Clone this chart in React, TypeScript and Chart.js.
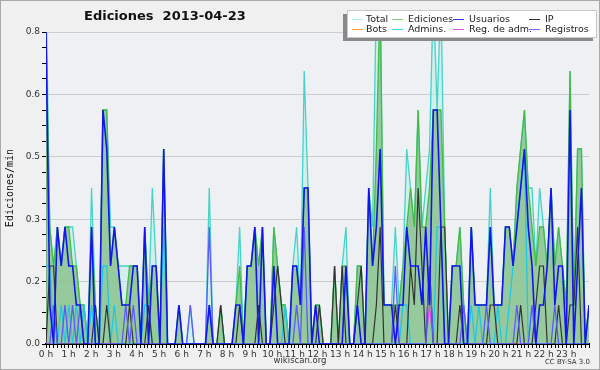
import React, { useEffect, useRef } from 'react';
import { Chart, registerables } from 'chart.js';

Chart.register(...registerables);

const chartTitle = 'Ediciones  2013-04-23';
const yTitle = 'Ediciones/min';
const hourLabels = ['0 h','1 h','2 h','3 h','4 h','5 h','6 h','7 h','8 h','9 h','10 h','11 h','12 h','13 h','14 h','15 h','16 h','17 h','18 h','19 h','20 h','21 h','22 h','23 h'];
const yTickLabels = ['0.0', '0.2', '0.3', '0.5', '0.6', '0.8'];

// 10-minute buckets, edits per minute
const total = [
  0.9,0.3,0.2,0.3,0.2,0.3,0.3,0.3,0.2,0.1,0.1,0,0.4,0.1,0,0.6,0.6,0.3,0.3,0.2,0.2,0.2,0.2,0.2,
  0.2,0,0.3,0.1,0.4,0.2,0,0.5,0,0,0,0.1,0,0,0.1,0,0,0,0,0.4,0,0,0.1,0,
  0,0,0.1,0.3,0,0.2,0.2,0.3,0.2,0.3,0,0,0.3,0.2,0.1,0.1,0,0.2,0.3,0.1,0.7,0.4,0,0.1,
  0.1,0,0,0,0.2,0,0.2,0.3,0,0,0.2,0.2,0,0.4,0.3,0.9,0.9,0.1,0.1,0.1,0.3,0.1,0.2,0.5,
  0.4,0.3,0.6,0.3,0.4,0.5,0.9,0.6,0.9,0.3,0,0.2,0.2,0.3,0.1,0,0.3,0.1,0.1,0.1,0.1,0.4,0.1,0.1,
  0.1,0.3,0.3,0.2,0.4,0.5,0.6,0.4,0.4,0.2,0.4,0.3,0.2,0.4,0.2,0.3,0.2,0.1,0.7,0.1,0.5,0.5,0,0.1
];
const ediciones = [
  0.8,0.3,0.2,0.3,0.2,0.3,0.3,0.2,0.2,0.1,0.1,0,0.3,0.1,0,0.6,0.6,0.2,0.3,0.2,0.1,0.1,0.2,0.2,
  0.2,0,0.3,0.1,0.2,0.2,0,0.5,0,0,0,0.1,0,0,0,0,0,0,0,0.1,0,0,0.1,0,
  0,0,0.1,0.2,0,0.2,0.2,0.3,0.2,0.3,0,0,0.3,0.2,0.1,0.1,0,0.2,0.2,0.1,0.4,0.4,0,0.1,
  0.1,0,0,0,0.2,0,0.2,0.2,0,0,0.2,0.2,0,0.4,0.2,0.5,0.9,0.1,0.1,0.1,0.1,0.1,0.2,0.3,
  0.4,0.3,0.6,0.3,0.3,0.4,0.6,0.6,0.6,0.3,0,0.2,0.2,0.3,0.1,0,0.3,0.1,0.1,0.1,0.1,0.3,0.1,0.1,
  0.1,0.3,0.3,0.2,0.4,0.5,0.6,0.4,0.3,0.2,0.3,0.3,0.2,0.4,0.2,0.3,0.2,0.1,0.7,0.1,0.5,0.5,0,0.1
];
const usuarios = [
  0.8,0.1,0,0.3,0.2,0.3,0.2,0.2,0.1,0.1,0,0,0.3,0,0,0.6,0.5,0.2,0.3,0.2,0.1,0.1,0.1,0.2,
  0.2,0,0.3,0,0.2,0.2,0,0.5,0,0,0,0.1,0,0,0,0,0,0,0,0.1,0,0,0,0,
  0,0,0.1,0.1,0,0.2,0.2,0.3,0,0.3,0,0,0.2,0,0,0,0,0.2,0.2,0.1,0.4,0.4,0,0.1,
  0,0,0,0,0,0,0,0.2,0,0,0.1,0,0,0.4,0.2,0.3,0.5,0.1,0.1,0.1,0,0.1,0.1,0.3,
  0.2,0.2,0.2,0.1,0.3,0.1,0.6,0.6,0.3,0,0,0.2,0.2,0.2,0,0,0.3,0.1,0.1,0.1,0.1,0.3,0.1,0.1,
  0.1,0.3,0.3,0.2,0.3,0.4,0.5,0.3,0.2,0,0.1,0.1,0.2,0.4,0.1,0.2,0.2,0,0.6,0,0.2,0.4,0,0.1
];
const ip = [
  0,0.2,0.2,0,0,0,0,0,0,0,0,0,0,0.1,0,0,0.1,0,0,0,0,0,0.1,0,
  0,0,0,0.1,0,0,0,0,0,0,0,0,0,0,0,0,0,0,0,0,0,0,0.1,0,
  0,0,0,0.1,0,0,0,0,0.1,0,0,0,0.1,0.2,0.1,0,0,0,0,0,0,0,0,0,
  0.1,0,0,0,0.2,0,0.2,0,0,0,0.1,0.2,0,0,0,0.1,0.3,0,0,0,0.1,0,0,0,
  0.2,0.1,0.4,0.2,0,0.2,0,0,0.3,0.3,0,0,0,0.1,0,0,0,0,0,0,0,0.1,0.1,0,
  0,0,0,0,0,0.1,0,0,0,0.1,0.2,0.2,0,0,0,0.1,0,0,0.1,0.1,0.3,0,0,0
];
const bots = [
  0,0,0,0,0,0,0,0,0,0,0,0,0,0,0,0,0,0,0,0,0,0,0,0,
  0,0,0,0,0,0,0,0,0,0,0,0,0,0,0,0,0,0,0,0,0,0,0,0,
  0,0,0,0,0,0,0,0,0,0,0,0,0,0,0,0,0,0,0,0,0,0,0,0,
  0,0,0,0,0,0,0,0,0,0,0,0,0,0,0,0,0,0,0,0,0,0,0,0,
  0,0,0,0,0,0,0,0,0,0,0,0,0,0,0,0,0,0,0,0,0,0,0,0,
  0,0,0,0,0,0,0,0,0,0,0,0,0,0,0,0,0,0,0,0,0,0,0,0
];
const admins = [
  0.2,0.2,0,0,0.1,0,0.1,0,0.1,0,0.1,0,0.1,0,0,0.2,0.2,0,0.1,0,0,0,0,0,
  0,0,0.1,0.1,0,0,0,0.3,0,0,0,0,0,0,0,0,0,0,0,0.1,0,0,0,0,
  0,0,0,0,0,0,0,0,0,0,0,0,0,0,0,0.1,0,0,0,0,0,0,0,0,
  0,0,0,0,0,0,0,0,0,0,0,0,0,0,0,0,0,0,0,0,0,0,0.1,0.1,
  0,0,0,0,0,0,0,0.3,0.3,0,0,0,0,0,0,0,0.1,0,0.1,0,0,0,0,0.1,
  0,0,0.1,0.2,0.3,0.4,0.5,0,0,0,0,0,0,0,0,0,0,0,0,0,0,0,0,0
];
const regAdm = [
  0,0,0,0,0,0,0,0,0,0,0,0,0,0,0,0,0,0,0,0,0,0,0,0,
  0,0,0,0,0,0,0,0,0,0,0,0,0,0,0,0,0,0,0,0,0,0,0,0,
  0,0,0,0,0,0,0,0,0,0,0,0,0,0,0,0,0,0,0,0,0,0,0,0,
  0,0,0,0,0,0,0,0,0,0,0,0,0,0,0,0,0,0,0,0,0,0,0,0,
  0,0,0,0,0,0.1,0,0,0,0,0,0,0,0,0,0,0,0,0,0,0,0,0,0,
  0,0,0,0,0,0,0,0,0,0,0,0,0,0,0,0,0,0,0,0,0,0,0,0
];
const registros = [
  0,0,0.1,0,0,0.1,0,0.1,0,0.1,0,0,0,0,0,0,0,0,0,0,0,0.1,0,0.1,
  0,0,0,0,0,0,0,0,0,0,0,0,0,0,0.1,0,0,0,0,0.3,0,0,0,0,
  0,0,0,0,0,0,0,0,0,0,0,0,0,0,0,0,0,0,0.1,0,0.3,0,0,0,
  0,0,0,0,0,0,0,0,0,0,0,0,0,0,0,0,0,0,0,0,0.2,0,0,0,
  0,0,0,0,0,0.2,0,0,0,0,0,0,0,0,0.1,0,0,0,0,0,0.1,0,0,0,
  0,0,0,0,0.1,0,0,0,0.1,0,0,0,0,0,0.1,0,0,0,0,0,0,0,0,0
];

const seriesNames = ['Total', 'Ediciones', 'Usuarios', 'IP', 'Bots', 'Admins.', 'Reg. de adm.', 'Registros'];
const seriesValues = [total, ediciones, usuarios, ip, bots, admins, regAdm, registros];
const lineColors = ['#44d4c8', '#44bb44', '#1414f0', '#333333', '#ff9922', '#22c8e0', '#dd44ee', '#5a5aff'];
const legendColors = ['#a8eeee', '#77d077', '#3535ff', '#333333', '#ffa030', '#40d8e8', '#e050f0', '#7070ff'];
const fillColors = ['rgba(190,236,230,0.55)', 'rgba(130,190,130,0.75)', null, null, null, null, null, null];
const drawOrder = [8, 7, 1, 3, 6, 4, 5, 2];
const lineWidths = [1.3, 1.3, 1.6, 1.2, 1.2, 1.3, 1.2, 1.3];

const decorPlugin = {
  id: 'decor',
  beforeDraw(chart: any) {
    const { ctx, chartArea: a, width, height } = chart;
    ctx.save();
    ctx.fillStyle = '#f0f0f0';
    ctx.fillRect(0, 0, width, height);
    ctx.strokeStyle = '#a9a9a9';
    ctx.lineWidth = 1;
    ctx.strokeRect(0.5, 0.5, width - 1, height - 1);
    ctx.fillStyle = '#eef0f3';
    ctx.fillRect(a.left, a.top, a.right - a.left, a.bottom - a.top);
    ctx.restore();
  },
  afterDraw(chart: any) {
    const { ctx, chartArea: a } = chart;
    ctx.save();
    // title
    ctx.fillStyle = '#111';
    ctx.font = 'bold 13px "DejaVu Sans"';
    ctx.textAlign = 'left';
    ctx.textBaseline = 'middle';
    ctx.fillText(chartTitle, 84, 17);
    // y title
    ctx.save();
    ctx.translate(10, (a.top + a.bottom) / 2);
    ctx.rotate(-Math.PI / 2);
    ctx.textAlign = 'center';
    ctx.font = '10px "DejaVu Sans Mono"';
    ctx.fillStyle = '#111';
    ctx.fillText(yTitle, 0, 0);
    ctx.restore();
    // footer
    ctx.font = '8.5px "DejaVu Sans"';
    ctx.fillStyle = '#333';
    ctx.textAlign = 'center';
    ctx.fillText('wikiscan.org', 300, 361);
    ctx.font = '7px "DejaVu Sans"';
    ctx.textAlign = 'right';
    ctx.fillText('CC BY-SA 3.0', 590, 362);
    // legend
    ctx.fillStyle = '#8a8a8a';
    ctx.fillRect(343, 14, 250, 27);
    ctx.fillStyle = '#fff';
    ctx.fillRect(347, 10, 250, 28);
    ctx.strokeStyle = '#c8c8c8';
    ctx.strokeRect(347.5, 10.5, 249, 27);
    const colLine = [352, 392, 453, 529];
    const colText = [366, 408, 469, 545];
    const rowY = [19.5, 29.5];
    ctx.font = '9.5px "DejaVu Sans"';
    ctx.textAlign = 'left';
    ctx.textBaseline = 'middle';
    seriesNames.forEach((name, k) => {
      const c = k % 4, r = Math.floor(k / 4);
      ctx.strokeStyle = legendColors[k];
      ctx.lineWidth = 1;
      ctx.beginPath();
      ctx.moveTo(colLine[c], rowY[r]);
      ctx.lineTo(colLine[c] + 11, rowY[r]);
      ctx.stroke();
      ctx.fillStyle = '#222';
      ctx.fillText(name, colText[c], rowY[r]);
    });
    ctx.restore();
  },
};

export default function App() {
  const ref = useRef<HTMLCanvasElement | null>(null);
  useEffect(() => {
    document.body.style.margin = '0';
    const n = total.length;
    const datasets = seriesValues.map((vals, k) => ({
      label: seriesNames[k],
      data: vals.map((v, i) => ({ x: (i * 24) / (n - 1), y: v })),
      borderColor: lineColors[k],
      backgroundColor: fillColors[k] || lineColors[k],
      fill: fillColors[k] ? 'origin' : false,
      borderWidth: lineWidths[k],
      pointRadius: 0,
      tension: 0,
      order: drawOrder[k],
    }));
    const chart = new Chart(ref.current as HTMLCanvasElement, {
      type: 'line',
      data: { datasets },
      plugins: [decorPlugin],
      options: {
        animation: false,
        responsive: false,
        events: [],
        layout: { padding: { top: 32, right: 11, left: 0, bottom: 0 } },
        plugins: {
          legend: { display: false },
          title: { display: false },
          tooltip: { enabled: false },
          filler: { drawTime: 'beforeDatasetsDraw' },
        } as any,
        scales: {
          x: {
            type: 'linear',
            min: 0,
            max: 24,
            afterBuildTicks: (s: any) => {
              s.ticks = Array.from({ length: 145 }, (_, k) => ({ value: k / 6 }));
            },
            afterFit: (s: any) => { s.height = 26; },
            ticks: {
              autoSkip: false,
              maxRotation: 0,
              padding: 1,
              color: '#333',
              font: { family: 'DejaVu Sans', size: 9 },
              callback: (_v: any, idx: number) => (idx % 6 === 0 && idx / 6 < hourLabels.length ? hourLabels[idx / 6] : ''),
            },
            grid: { drawOnChartArea: false, drawTicks: true, tickLength: 4, tickColor: '#000', tickWidth: 1 },
            border: { display: true, color: '#000', width: 2 },
          },
          y: {
            type: 'linear',
            min: 0,
            max: 0.8,
            afterBuildTicks: (s: any) => {
              s.ticks = Array.from({ length: 21 }, (_, k) => ({ value: k * 0.04 }));
            },
            afterFit: (s: any) => { s.width = 46; },
            ticks: {
              autoSkip: false,
              padding: 2,
              color: '#333',
              font: { family: 'DejaVu Sans', size: 9 },
              callback: (_v: any, idx: number) => (idx % 4 === 0 ? yTickLabels[idx / 4] : ''),
            },
            grid: {
              color: (c: any) => (c.index % 4 === 0 && c.index > 0 ? '#cdcdcd' : 'rgba(0,0,0,0)'),
              lineWidth: 1,
              drawTicks: true,
              tickLength: 4,
              tickColor: '#000',
              tickWidth: 1,
            },
            border: { display: true, color: '#000', width: 1 },
          },
        },
      },
    });
    return () => chart.destroy();
  }, []);
  return <canvas ref={ref} width={600} height={370} style={{ display: 'block' }} />;
}
